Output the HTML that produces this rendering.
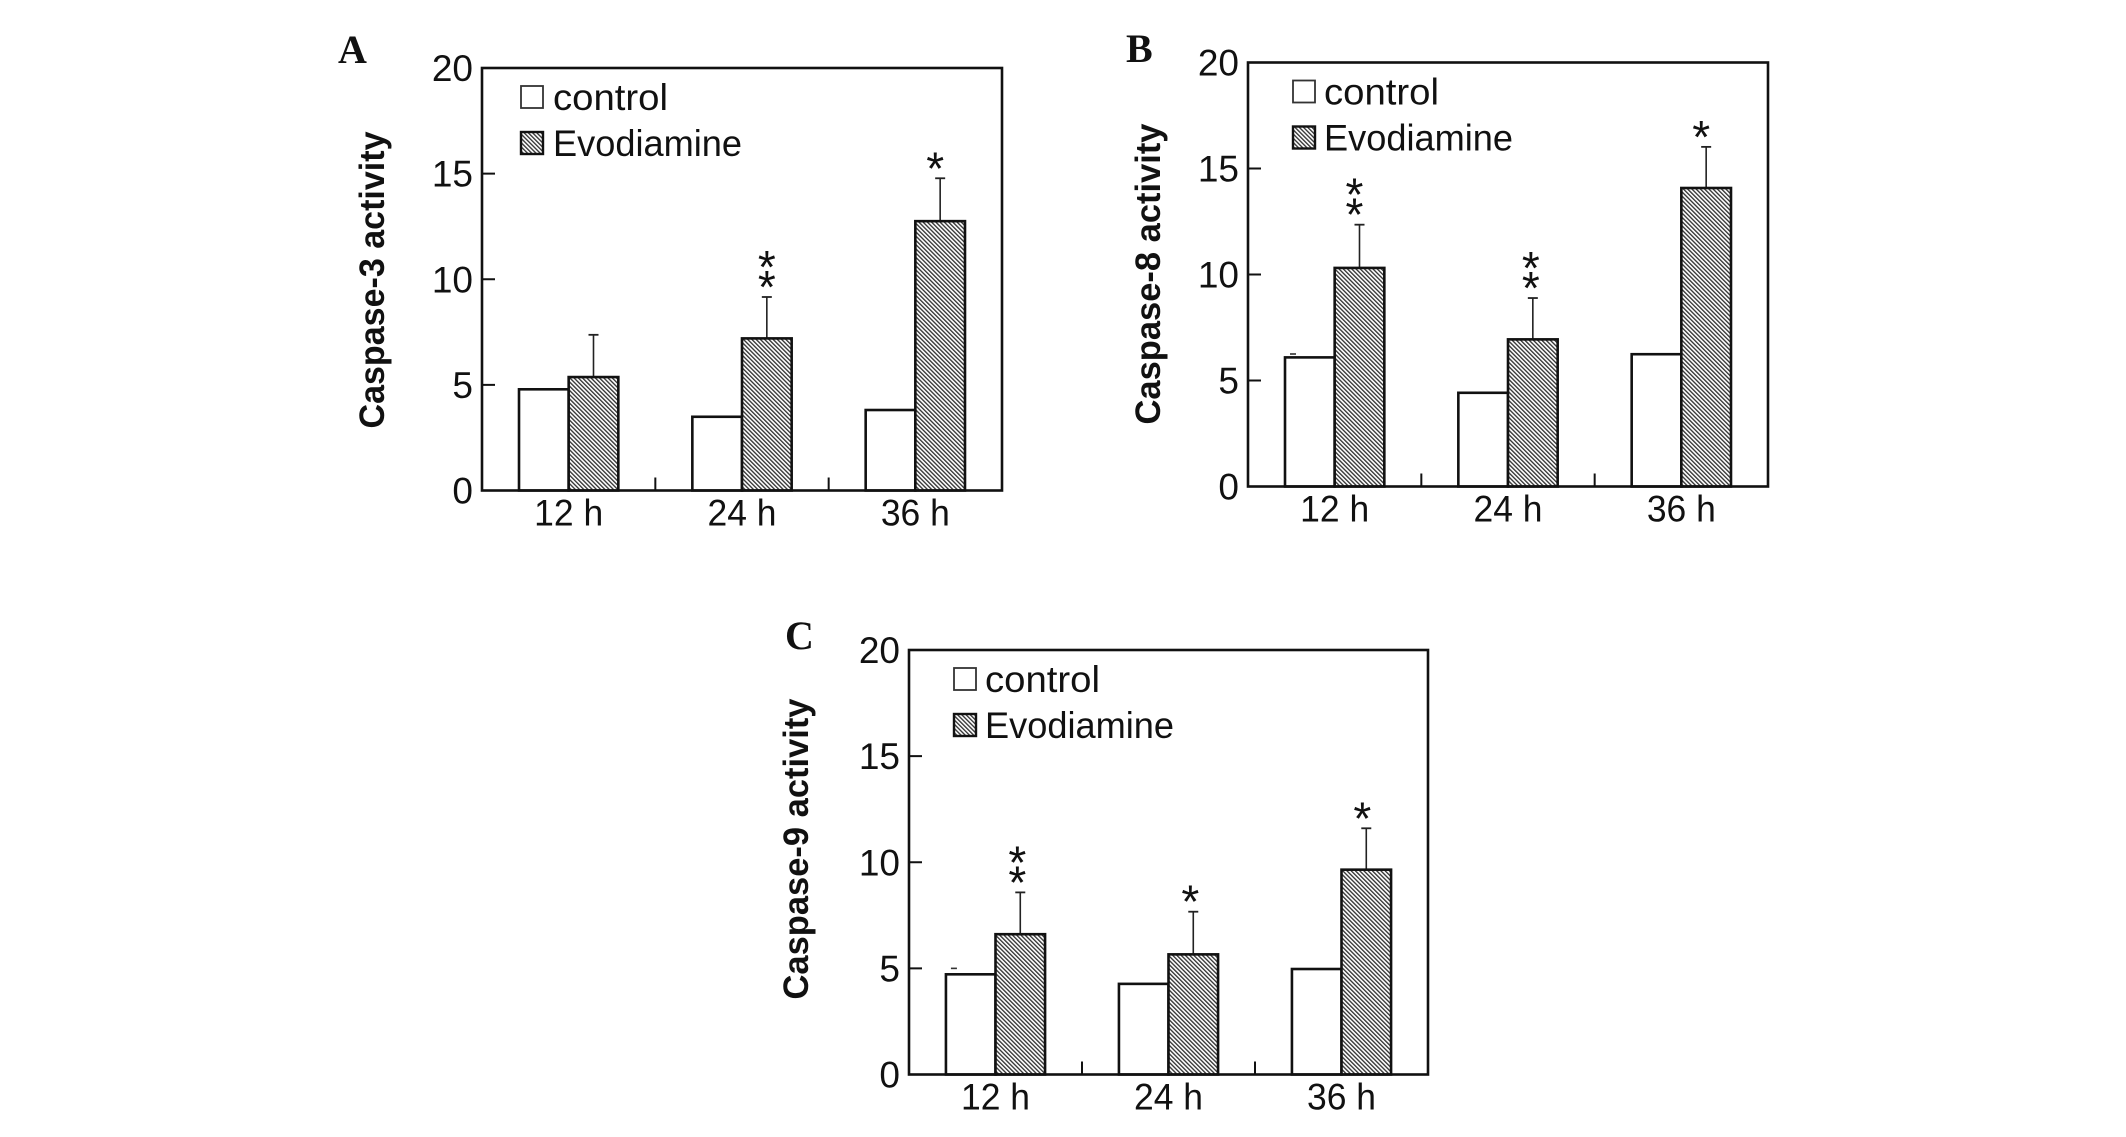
<!DOCTYPE html>
<html lang="en">
<head>
<meta charset="utf-8">
<title>Caspase activity charts</title>
<style>
html,body{margin:0;padding:0;background:#fff;width:2126px;height:1137px;overflow:hidden}
svg{display:block}
text{fill:#111;font-family:"Liberation Sans",sans-serif}
.tick{font-size:37px}
.cat{font-size:37px}
.leg{font-size:37px}
.yt{font-size:35px;font-weight:bold}
.let{font-family:"Liberation Serif",serif;font-weight:bold;font-size:40px}
.star{font-size:46px}
</style>
</head>
<body>
<svg id="figure" xmlns="http://www.w3.org/2000/svg" width="2126" height="1137" viewBox="0 0 2126 1137">
<defs>
<pattern id="hatch" patternUnits="userSpaceOnUse" width="3" height="3" patternTransform="rotate(-45)">
<rect width="3" height="3" fill="#fff"></rect>
<rect width="1.35" height="3" fill="#333"></rect>
</pattern>
</defs>
<rect width="2126" height="1137" fill="#fff"></rect>
</svg>
<script>
const categories = ['12 h', '24 h', '36 h'];
const yTickLabels = [0, 5, 10, 15, 20];
const legendLabels = ['control', 'Evodiamine'];

const controlA = [4.79, 3.49, 3.81];
const evodiamineA = [5.37, 7.2, 12.75];
const errorA = [2.0, 1.96, 2.03];
const starsA = [0, 2, 1];
const controlCapA = [null, null, null];

const controlB = [6.09, 4.42, 6.24];
const evodiamineB = [10.31, 6.94, 14.08];
const errorB = [2.04, 1.95, 1.94];
const starsB = [2, 2, 1];
const controlCapB = [6.25, null, null];

const controlC = [4.72, 4.27, 4.97];
const evodiamineC = [6.61, 5.66, 9.65];
const errorC = [1.97, 2.01, 1.95];
const starsC = [2, 1, 1];
const controlCapC = [5.0, null, null];

const svgNS = 'http://www.w3.org/2000/svg';
const root = document.getElementById('figure');

function node(parent, tag, attrs, text) {
  const el = document.createElementNS(svgNS, tag);
  for (const k in attrs) el.setAttribute(k, attrs[k]);
  if (text !== undefined) el.textContent = text;
  parent.appendChild(el);
  return el;
}

function drawPanel(p) {
  const g = node(root, 'g', {});
  
  

  const w = p.x1 - p.x0;
  const yScale = v => p.y1 - (v / 20) * (p.y1 - p.y0);
  const band = w / 3;
  const xCenter = i => p.x0 + band * (i + 0.5);
  const barW = w * 0.0955;

  const letter = node(g, 'text', {x: p.lx, y: p.ly, 'class': 'let'}, p.letter);
  
  

  const yTitle = node(g, 'text', {
    transform: 'translate(' + p.tx + ',' + p.ty + ') rotate(-90)',
    'class': 'yt', 'text-anchor': 'middle', textLength: p.tl, lengthAdjust: 'spacingAndGlyphs'
  }, p.title);
  
  

  categories.forEach((cat, i) => {
    const cx = xCenter(i);
    const c = node(g, 'rect', {x: cx - barW, y: yScale(p.control[i]), width: barW, height: p.y1 - yScale(p.control[i]), fill: '#fff', stroke: '#111', 'stroke-width': 2.6});
    
    

    const top = yScale(p.evo[i] + p.err[i]);
    const stem = node(g, 'line', {x1: cx + barW / 2, x2: cx + barW / 2, y1: yScale(p.evo[i]), y2: top, stroke: '#222', 'stroke-width': 1.6});
    
    
    const cap = node(g, 'line', {x1: cx + barW / 2 - 5, x2: cx + barW / 2 + 5, y1: top, y2: top, stroke: '#222', 'stroke-width': 1.8});
    
    

    const e = node(g, 'rect', {x: cx, y: yScale(p.evo[i]), width: barW, height: p.y1 - yScale(p.evo[i]), fill: 'url(#hatch)', stroke: '#111', 'stroke-width': 2.6});
    
    

    if (p.cap[i] !== null) {
      const dash = node(g, 'line', {x1: cx - barW + 5, x2: cx - barW + 11, y1: yScale(p.cap[i]), y2: yScale(p.cap[i]), stroke: '#333', 'stroke-width': 1.6});
      
      
    }

    for (let s = 0; s < p.stars[i]; s++) {
      const st = node(g, 'text', {x: cx + barW / 2 + p.starDx[i], y: top + 6 - (s * 20), 'class': 'star', 'text-anchor': 'middle'}, '*');
      
      
    }

    const lab = node(g, 'text', {x: cx, y: p.y1 + 35, 'class': 'cat', 'text-anchor': 'middle', textLength: 69, lengthAdjust: 'spacingAndGlyphs'}, cat);
    
    

    if (i > 0) {
      const xt = node(g, 'line', {x1: p.x0 + band * i, x2: p.x0 + band * i, y1: p.y1, y2: p.y1 - 13, stroke: '#111', 'stroke-width': 2});
      
      
    }
  });

  yTickLabels.forEach(v => {
    const yy = yScale(v);
    const lab = node(g, 'text', {x: p.x0 - 9, y: yy + 13, 'class': 'tick', 'text-anchor': 'end'}, v);
    
    
    if (v > 0 && v < 20) {
      const t = node(g, 'line', {x1: p.x0, x2: p.x0 + 13, y1: yy, y2: yy, stroke: '#111', 'stroke-width': 2});
      
      
    }
  });

  const frame = node(g, 'rect', {x: p.x0, y: p.y0, width: w, height: p.y1 - p.y0, fill: 'none', stroke: '#111', 'stroke-width': 2.6});
  
  

  const s1 = node(g, 'rect', {x: p.x0 + p.swatchDx, y: p.y0 + 18, width: 22, height: 22, fill: '#fff', stroke: '#333', 'stroke-width': 1.8});
  
  
  const t1 = node(g, 'text', {x: p.x0 + p.labelDx, y: p.y0 + 42, 'class': 'leg', textLength: 115, lengthAdjust: 'spacingAndGlyphs'}, legendLabels[0]);
  
  
  const s2 = node(g, 'rect', {x: p.x0 + p.swatchDx, y: p.y0 + 64, width: 22, height: 22, fill: 'url(#hatch)', stroke: '#111', 'stroke-width': 2.4});
  
  
  const t2 = node(g, 'text', {x: p.x0 + p.labelDx, y: p.y0 + 88, 'class': 'leg', textLength: 189, lengthAdjust: 'spacingAndGlyphs'}, legendLabels[1]);
  
  
}

drawPanel({letter: 'A', title: 'Caspase-3 activity', x0: 482, x1: 1002, y0: 68, y1: 490.5, lx: 338, ly: 63, tx: 384, ty: 280, tl: 297, swatchDx: 39, labelDx: 71, starDx: [0, 0, -5],
  control: controlA, evo: evodiamineA, err: errorA, stars: starsA, cap: controlCapA});
drawPanel({letter: 'B', title: 'Caspase-8 activity', x0: 1248, x1: 1768, y0: 62.5, y1: 486.5, lx: 1126, ly: 62, tx: 1160, ty: 274, tl: 301, swatchDx: 45, labelDx: 76, starDx: [-5, -2, -5],
  control: controlB, evo: evodiamineB, err: errorB, stars: starsB, cap: controlCapB});
drawPanel({letter: 'C', title: 'Caspase-9 activity', x0: 909, x1: 1428, y0: 650, y1: 1074.5, lx: 785, ly: 649, tx: 808, ty: 849, tl: 301, swatchDx: 45, labelDx: 76, starDx: [-3, -3, -4],
  control: controlC, evo: evodiamineC, err: errorC, stars: starsC, cap: controlCapC});
</script>
</body>
</html>
